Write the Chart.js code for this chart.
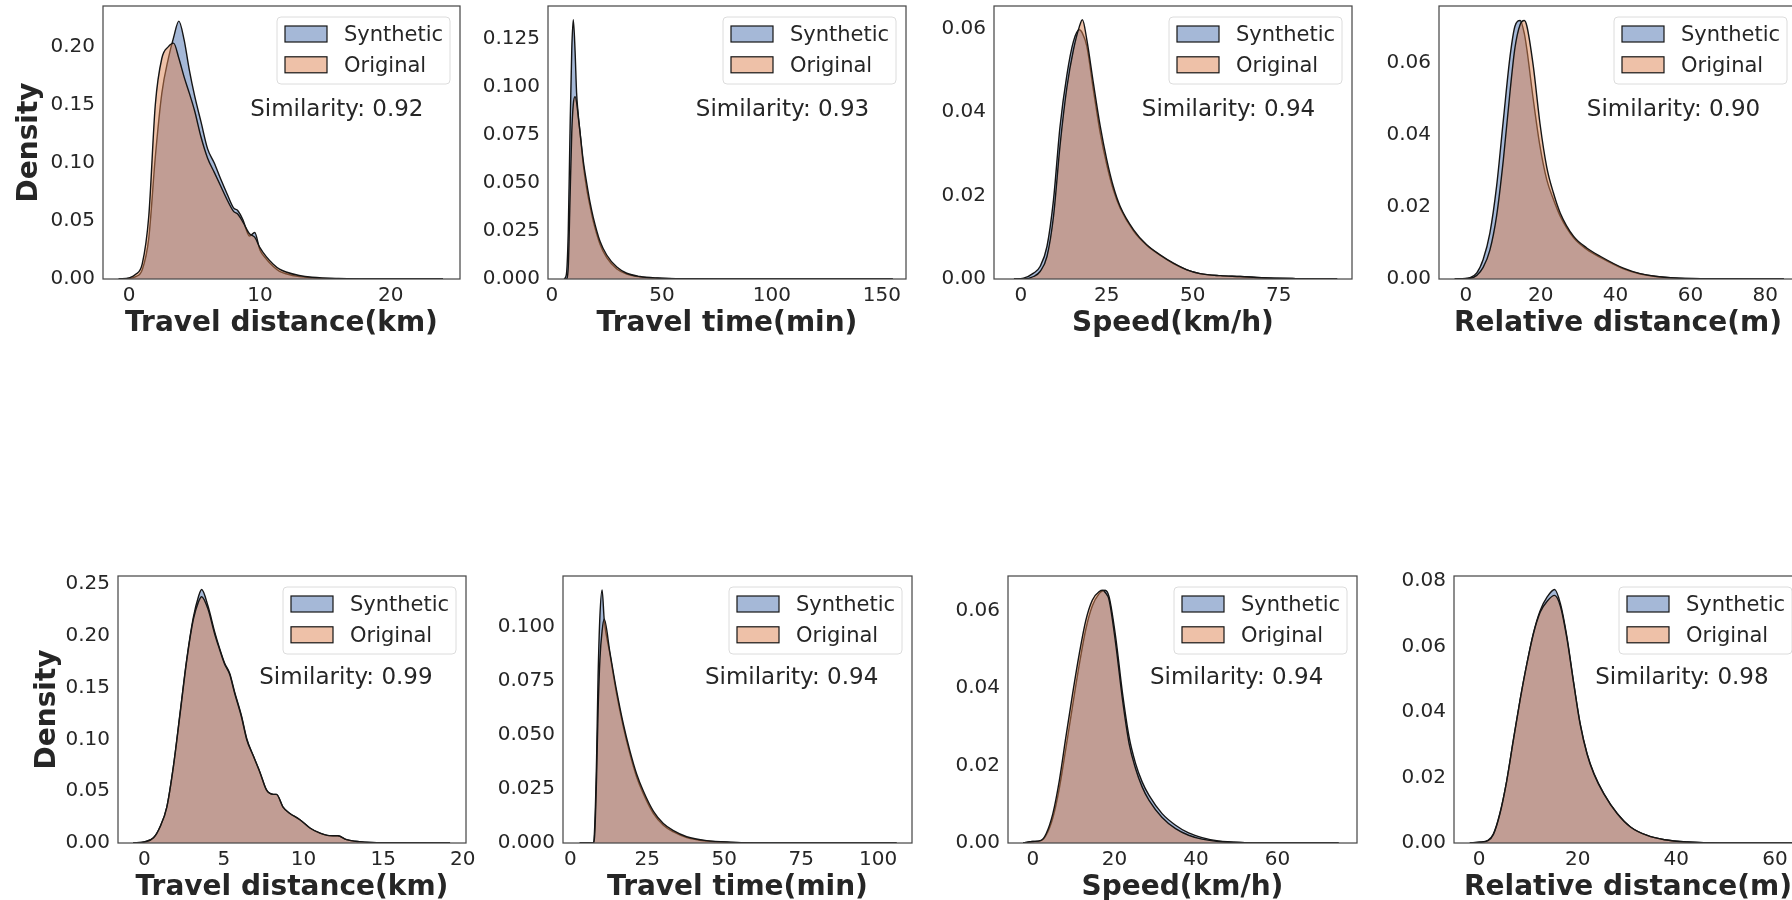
<!DOCTYPE html>
<html lang="fr">
<head>
<meta charset="utf-8">
<title>Densités : Synthetic vs Original</title>
<script src="https://cdn.jsdelivr.net/npm/chart.js@4.4.1/dist/chart.umd.min.js"></script>
<style>
  html, body { margin: 0; padding: 0; background: #fff; overflow: hidden; width: 1792px; height: 900px; }
  canvas { position: absolute; }
</style>
</head>
<body>
<script>
// ============================================================================
// Données (courbes de densité)
// ============================================================================
const LIBELLES_SERIES = ['Synthetic', 'Original'];
const TITRES_X = ['Travel distance(km)', 'Travel time(min)', 'Speed(km/h)', 'Relative distance(m)'];
const SIMILARITES = ['0.92', '0.93', '0.94', '0.90', '0.99', '0.94', '0.94', '0.98'];

// --- Ligne du haut : distance de trajet
const xDistanceHaut = [-0.8, 0, 0.5, 1, 1.5, 2, 2.5, 3, 3.4, 3.8, 4.2, 4.6, 5, 5.5, 6, 6.5, 7, 7.5, 8, 8.3, 8.7, 9.2, 9.6, 10, 10.5, 11, 11.5, 12, 13, 14, 16, 18, 21, 24];
const synDistanceHaut = [0, 0.0005, 0.002, 0.008, 0.035, 0.105, 0.16, 0.19, 0.208, 0.222, 0.206, 0.18, 0.158, 0.135, 0.112, 0.1, 0.086, 0.073, 0.061, 0.059, 0.051, 0.037, 0.04, 0.025, 0.017, 0.011, 0.0066, 0.0045, 0.002, 0.001, 0.0003, 0.0001, 0, 0];
const oriDistanceHaut = [0, 0.001, 0.004, 0.013, 0.054, 0.15, 0.19, 0.2, 0.203, 0.19, 0.174, 0.16, 0.145, 0.122, 0.104, 0.092, 0.08, 0.068, 0.058, 0.056, 0.049, 0.039, 0.036, 0.027, 0.019, 0.013, 0.0085, 0.006, 0.003, 0.0015, 0.0004, 0.0001, 0, 0];

// --- Ligne du haut : durée de trajet
const xDureeHaut = [5.5, 6.5, 7.4, 8.2, 9, 9.7, 10.5, 11.2, 12, 12.8, 14.3, 15.8, 17.3, 18.8, 21.9, 24.9, 29.5, 34, 40, 48, 60, 80, 110, 155];
const synDureeHaut = [0, 0.002, 0.024, 0.076, 0.119, 0.135, 0.119, 0.097, 0.085, 0.076, 0.059, 0.047, 0.038, 0.03, 0.018, 0.0112, 0.0052, 0.0026, 0.0011, 0.0004, 0.0001, 0, 0, 0];
const oriDureeHaut = [0, 0, 0.006, 0.041, 0.076, 0.091, 0.095, 0.092, 0.084, 0.076, 0.061, 0.05, 0.04, 0.032, 0.0195, 0.0125, 0.0062, 0.003, 0.0013, 0.0005, 0.0001, 0, 0, 0];

// --- Ligne du haut : vitesse
const xVitesseHaut = [-2, 0.8, 3.7, 5.6, 7.6, 9.5, 11.4, 13.4, 15.3, 17, 17.9, 19.2, 21.1, 23.1, 25, 26.9, 28.9, 32.8, 36.6, 40.5, 44.4, 48.3, 52.1, 58, 63.8, 70, 80, 92];
const synVitesseHaut = [0, 0.0002, 0.0014, 0.003, 0.0078, 0.019, 0.0366, 0.049, 0.057, 0.0598, 0.059, 0.0558, 0.0454, 0.035, 0.0274, 0.0214, 0.017, 0.0115, 0.0081, 0.0057, 0.0037, 0.0022, 0.0013, 0.0008, 0.0006, 0.0003, 0.0001, 0];
const oriVitesseHaut = [0, 0, 0.0006, 0.0018, 0.0054, 0.015, 0.032, 0.046, 0.055, 0.0605, 0.0622, 0.0574, 0.047, 0.0366, 0.0286, 0.0222, 0.0174, 0.0118, 0.0082, 0.0058, 0.0038, 0.0022, 0.0013, 0.0008, 0.0006, 0.0003, 0.0001, 0];

// --- Ligne du haut : distance relative
const xRelativeHaut = [-3, 1.1, 2.9, 4.6, 6.4, 8.2, 10, 11.8, 13.1, 14.5, 15.6, 16.3, 18, 19.8, 21.6, 23.4, 25.2, 28.8, 32.3, 35.9, 42.1, 46.6, 55.5, 65, 85];
const synRelativeHaut = [0, 0.0004, 0.0017, 0.0054, 0.0127, 0.0257, 0.044, 0.0617, 0.07, 0.0716, 0.068, 0.0635, 0.0497, 0.0367, 0.0275, 0.022, 0.0174, 0.0114, 0.0082, 0.006, 0.0028, 0.0014, 0.0003, 0.0001, 0];
const oriRelativeHaut = [0, 0.0002, 0.001, 0.0032, 0.008, 0.0175, 0.033, 0.052, 0.064, 0.0705, 0.0716, 0.07, 0.059, 0.043, 0.031, 0.0238, 0.0183, 0.0118, 0.0086, 0.0063, 0.003, 0.0015, 0.0003, 0.0001, 0];

// --- Ligne du bas : distance de trajet
const xDistanceBas = [-0.7, 0, 0.58, 1, 1.42, 1.83, 2.25, 2.67, 3.08, 3.4, 3.6, 4, 4.42, 4.73, 5.04, 5.36, 5.67, 6.1, 6.43, 6.85, 7.27, 7.68, 8.1, 8.3, 8.7, 9.1, 9.77, 10.4, 11, 11.6, 12.15, 12.7, 13.5, 15, 19.2];
const synDistanceBas = [0, 0.001, 0.005, 0.016, 0.035, 0.074, 0.126, 0.178, 0.218, 0.238, 0.245, 0.229, 0.204, 0.188, 0.174, 0.164, 0.146, 0.123, 0.101, 0.084, 0.068, 0.051, 0.047, 0.047, 0.035, 0.029, 0.0225, 0.0145, 0.0097, 0.0071, 0.007, 0.0032, 0.0013, 0.0002, 0];
const oriDistanceBas = [0, 0.001, 0.005, 0.016, 0.035, 0.074, 0.125, 0.177, 0.216, 0.233, 0.238, 0.226, 0.202, 0.187, 0.173, 0.163, 0.145, 0.122, 0.1, 0.084, 0.068, 0.051, 0.047, 0.047, 0.035, 0.029, 0.0225, 0.0145, 0.0097, 0.0071, 0.007, 0.0032, 0.0013, 0.0002, 0];

// --- Ligne du bas : durée de trajet
const xDureeBas = [3, 7.4, 7.9, 8.5, 9, 9.6, 10.3, 11, 12.8, 15, 17.2, 19.3, 21.5, 23.7, 27, 30.2, 33.5, 37.8, 44.3, 52, 68, 106];
const synDureeBas = [0, 0, 0.0074, 0.038, 0.077, 0.105, 0.117, 0.103, 0.0877, 0.069, 0.0537, 0.0414, 0.0306, 0.0228, 0.0136, 0.0082, 0.0051, 0.0025, 0.0009, 0.0003, 0, 0];
const oriDureeBas = [0, 0, 0.004, 0.03, 0.061, 0.085, 0.098, 0.1034, 0.0885, 0.0705, 0.055, 0.0428, 0.032, 0.024, 0.0146, 0.009, 0.0057, 0.0029, 0.0011, 0.0004, 0, 0];

// --- Ligne du bas : vitesse
const xVitesseBas = [-2.4, 0, 2, 3.25, 4.9, 6.5, 8.1, 9.75, 11.4, 13, 14.6, 16.3, 17.2, 17.7, 18.7, 20.3, 22, 23.6, 25.2, 26.8, 28.5, 31.7, 35, 38.2, 41.5, 45.5, 52, 60, 75];
const synVitesseBas = [0, 0.0004, 0.0006, 0.002, 0.0065, 0.0142, 0.0245, 0.0355, 0.0462, 0.0553, 0.0613, 0.0645, 0.0652, 0.0653, 0.0636, 0.0533, 0.0386, 0.0274, 0.0205, 0.0158, 0.0123, 0.0076, 0.0046, 0.0026, 0.0014, 0.0005, 0.0001, 0, 0];
const oriVitesseBas = [0, 0.0004, 0.0007, 0.0024, 0.0076, 0.0162, 0.0274, 0.0386, 0.049, 0.0576, 0.0628, 0.065, 0.0653, 0.0648, 0.0628, 0.0516, 0.0369, 0.0257, 0.0192, 0.0145, 0.011, 0.0066, 0.0037, 0.002, 0.001, 0.0004, 0.0001, 0, 0];

// --- Ligne du bas : distance relative
const xRelativeBas = [-1.9, 0.1, 1.8, 2.9, 4.2, 5.6, 6.9, 8.3, 9.7, 11, 12.4, 13.8, 15.3, 16.5, 17.8, 19.2, 20.5, 21.9, 23.3, 25.3, 28, 30.7, 34.1, 37.6, 42.3, 49, 63.8];
const synRelativeBas = [0, 0.0003, 0.0008, 0.0028, 0.009, 0.019, 0.031, 0.0436, 0.0548, 0.064, 0.071, 0.0751, 0.0774, 0.073, 0.063, 0.0487, 0.0364, 0.0273, 0.0212, 0.0151, 0.009, 0.0049, 0.0023, 0.001, 0.0003, 0, 0];
const oriRelativeBas = [0, 0.0002, 0.0007, 0.0026, 0.0088, 0.019, 0.031, 0.0436, 0.0548, 0.0638, 0.0705, 0.0738, 0.0756, 0.0722, 0.0625, 0.0485, 0.0362, 0.0271, 0.021, 0.015, 0.009, 0.0049, 0.0023, 0.001, 0.0003, 0, 0];

// --- Graduations
const ticksXDistanceHaut = [0, 10, 20];
const ticksXDureeHaut = [0, 50, 100, 150];
const ticksXVitesseHaut = [0, 25, 50, 75];
const ticksXRelativeHaut = [0, 20, 40, 60, 80];
const ticksXDistanceBas = [0, 5, 10, 15, 20];
const ticksXDureeBas = [0, 25, 50, 75, 100];
const ticksXVitesseBas = [0, 20, 40, 60];
const ticksXRelativeBas = [0, 20, 40, 60];

const ticksYDistanceHaut = [0, 0.05, 0.10, 0.15, 0.20];
const ticksYDureeHaut = [0, 0.025, 0.05, 0.075, 0.1, 0.125];
const ticksYVitesseHaut = [0, 0.02, 0.04, 0.06];
const ticksYRelativeHaut = [0, 0.02, 0.04, 0.06];
const ticksYDistanceBas = [0, 0.05, 0.10, 0.15, 0.20, 0.25];
const ticksYDureeBas = [0, 0.025, 0.05, 0.075, 0.1];
const ticksYVitesseBas = [0, 0.02, 0.04, 0.06];
const ticksYRelativeBas = [0, 0.02, 0.04, 0.06, 0.08];

// ============================================================================
// Constantes de style et de mise en page
// ============================================================================
const POLICE = "'DejaVu Sans', 'Liberation Sans', sans-serif";
const COULEUR_TEXTE = '#262626';
const COULEUR_CADRE = '#4a4a4a';
const BLEU = 'rgba(76, 114, 176, 0.5)';   // palette "deep" de seaborn
const ORANGE = 'rgba(221, 132, 82, 0.5)';
const CONTOUR = '#151515';

const LARGEUR_AXE_Y = 100; // place réservée aux graduations de gauche
const HAUTEUR_AXE_X = 70;  // graduations + titre sous le cadre
const MARGE_HAUT = 26;     // > demi-hauteur du libellé du haut + padding
const MARGE_DROITE = 30;

Chart.defaults.font.family = POLICE;
Chart.defaults.color = COULEUR_TEXTE;

// Boîte de chaque panneau (pixels de la page) et bornes des axes
const panneaux = [
  { x: xDistanceHaut, syn: synDistanceHaut, ori: oriDistanceHaut, tx: ticksXDistanceHaut, ty: ticksYDistanceHaut, dec: 2,
    minX: -2.0, maxX: 25.3, maxY: 0.235, titre: TITRES_X[0], sim: SIMILARITES[0], boite: [103, 6, 460, 279], density: 30 },
  { x: xDureeHaut, syn: synDureeHaut, ori: oriDureeHaut, tx: ticksXDureeHaut, ty: ticksYDureeHaut, dec: 3,
    minX: -1.8, maxX: 161, maxY: 0.1422, titre: TITRES_X[1], sim: SIMILARITES[1], boite: [548, 6, 906, 279] },
  { x: xVitesseHaut, syn: synVitesseHaut, ori: oriVitesseHaut, tx: ticksXVitesseHaut, ty: ticksYVitesseHaut, dec: 2,
    minX: -7.8, maxX: 96.3, maxY: 0.0655, titre: TITRES_X[2], sim: SIMILARITES[2], boite: [994, 6, 1352, 279] },
  { x: xRelativeHaut, syn: synRelativeHaut, ori: oriRelativeHaut, tx: ticksXRelativeHaut, ty: ticksYRelativeHaut, dec: 2,
    minX: -7.2, maxX: 88.5, maxY: 0.0756, titre: TITRES_X[3], sim: SIMILARITES[3], boite: [1439, 6, 1797, 279] },
  { x: xDistanceBas, syn: synDistanceBas, ori: oriDistanceBas, tx: ticksXDistanceBas, ty: ticksYDistanceBas, dec: 2,
    minX: -1.65, maxX: 20.2, maxY: 0.258, titre: TITRES_X[0], sim: SIMILARITES[4], boite: [118, 576, 466, 843], density: 47.5 },
  { x: xDureeBas, syn: synDureeBas, ori: oriDureeBas, tx: ticksXDureeBas, ty: ticksYDureeBas, dec: 3,
    minX: -2.4, maxX: 111, maxY: 0.1234, titre: TITRES_X[1], sim: SIMILARITES[5], boite: [563, 576, 912, 843] },
  { x: xVitesseBas, syn: synVitesseBas, ori: oriVitesseBas, tx: ticksXVitesseBas, ty: ticksYVitesseBas, dec: 2,
    minX: -6.1, maxX: 79.5, maxY: 0.069, titre: TITRES_X[2], sim: SIMILARITES[6], boite: [1008, 576, 1357, 843] },
  { x: xRelativeBas, syn: synRelativeBas, ori: oriRelativeBas, tx: ticksXRelativeBas, ty: ticksYRelativeBas, dec: 2,
    minX: -5.1, maxX: 65.5, maxY: 0.0815, titre: TITRES_X[3], sim: SIMILARITES[7], boite: [1454, 576, 1802, 843] }
];

// ============================================================================
// Plugins maison : cadre, légende et texte de similarité
// ============================================================================
function rectangleArrondi(ctx, x, y, l, h, r) {
    ctx.beginPath();
    ctx.moveTo(x + r, y);
    ctx.lineTo(x + l - r, y);
    ctx.arcTo(x + l, y, x + l, y + r, r);
    ctx.lineTo(x + l, y + h - r);
    ctx.arcTo(x + l, y + h, x + l - r, y + h, r);
    ctx.lineTo(x + r, y + h);
    ctx.arcTo(x, y + h, x, y + h - r, r);
    ctx.lineTo(x, y + r);
    ctx.arcTo(x, y, x + r, y, r);
    ctx.closePath();
}

const pluginCadre = {
    id: 'cadre',
    afterDatasetsDraw(chart) {
        const { ctx, chartArea: a } = chart;
        ctx.save();
        ctx.strokeStyle = COULEUR_CADRE;
        ctx.lineWidth = 1.25;
        ctx.strokeRect(a.left, a.top, a.right - a.left, a.bottom - a.top);
        ctx.restore();
    }
};

const pluginLegende = {
    id: 'legendeMaison',
    afterDraw(chart) {
        const { ctx, chartArea: a } = chart;
        const largeur = 173, hauteur = 67;
        const gauche = a.right - 10 - largeur;
        const haut = a.top + 11;

        ctx.save();
        rectangleArrondi(ctx, gauche, haut, largeur, hauteur, 4);
        ctx.fillStyle = 'rgba(255, 255, 255, 0.8)';
        ctx.fill();
        ctx.strokeStyle = '#dcdcdc';
        ctx.lineWidth = 1;
        ctx.stroke();

        ctx.font = '21px ' + POLICE;
        ctx.textBaseline = 'middle';
        chart.data.datasets.forEach((ds, i) => {
            const yc = haut + 17 + i * 30.8;
            ctx.fillStyle = '#fff';
            ctx.fillRect(gauche + 8, yc - 8, 42, 16);
            ctx.fillStyle = ds.backgroundColor;
            ctx.fillRect(gauche + 8, yc - 8, 42, 16);
            ctx.strokeStyle = CONTOUR;
            ctx.lineWidth = 1.2;
            ctx.strokeRect(gauche + 8, yc - 8, 42, 16);
            ctx.fillStyle = COULEUR_TEXTE;
            ctx.fillText(ds.label, gauche + 67, yc + 1.5);
        });
        ctx.restore();
    }
};

const pluginSimilarite = {
    id: 'similarite',
    afterDraw(chart, args, opts) {
        const { ctx, chartArea: a } = chart;
        ctx.save();
        ctx.font = '23px ' + POLICE;
        ctx.fillStyle = COULEUR_TEXTE;
        ctx.textAlign = 'center';
        ctx.textBaseline = 'middle';
        const xc = a.left + 0.655 * (a.right - a.left);
        const yc = a.bottom - 0.625 * (a.bottom - a.top);
        ctx.fillText('Similarity: ' + opts.valeur, xc, yc + 1.5);
        ctx.restore();
    }
};

// ============================================================================
// Construction des huit panneaux
// ============================================================================
function creerPanneau(p) {
    const [l, t, r, b] = p.boite;
    const canvas = document.createElement('canvas');
    const largeur = LARGEUR_AXE_Y + (r - l) + MARGE_DROITE;
    const hauteur = MARGE_HAUT + (b - t) + HAUTEUR_AXE_X;
    canvas.width = largeur;
    canvas.height = hauteur;
    canvas.style.left = (l - LARGEUR_AXE_Y) + 'px';
    canvas.style.top = (t - MARGE_HAUT) + 'px';
    canvas.style.width = largeur + 'px';
    canvas.style.height = hauteur + 'px';
    document.body.appendChild(canvas);

    const serie = (ys) => p.x.map((x, i) => ({ x: x, y: ys[i] }));
    const commun = { borderColor: CONTOUR, borderWidth: 1.4, fill: 'origin', pointRadius: 0, cubicInterpolationMode: 'monotone' };

    new Chart(canvas, {
        type: 'line',
        data: {
            datasets: [
                { ...commun, label: LIBELLES_SERIES[0], data: serie(p.syn), backgroundColor: BLEU, order: 1 },
                { ...commun, label: LIBELLES_SERIES[1], data: serie(p.ori), backgroundColor: ORANGE, order: 0 }
            ]
        },
        options: {
            responsive: false,
            animation: false,
            devicePixelRatio: 1,
            layout: { padding: { top: MARGE_HAUT, right: MARGE_DROITE, left: 0, bottom: 0 } },
            plugins: {
                legend: { display: false },
                tooltip: { enabled: false },
                similarite: { valeur: p.sim }
            },
            scales: {
                x: {
                    type: 'linear',
                    min: p.minX,
                    max: p.maxX,
                    grid: { display: false, drawTicks: false },
                    border: { display: false },
                    afterBuildTicks: (s) => { s.ticks = p.tx.map(v => ({ value: v })); },
                    afterFit: (s) => { s.height = HAUTEUR_AXE_X; },
                    ticks: { autoSkip: false, maxRotation: 0, padding: 5, color: COULEUR_TEXTE, font: { size: 20 },
                             callback: (v) => String(v) },
                    title: { display: true, text: p.titre, color: COULEUR_TEXTE,
                             font: { size: 28, weight: 'bold', lineHeight: 1.2 }, padding: { top: 0, bottom: 8 } }
                },
                y: {
                    min: 0,
                    max: p.maxY,
                    grid: { display: false, drawTicks: false },
                    border: { display: false },
                    afterBuildTicks: (s) => { s.ticks = p.ty.map(v => ({ value: v })); },
                    afterFit: (s) => { s.width = LARGEUR_AXE_Y; },
                    ticks: { autoSkip: false, padding: 8, color: COULEUR_TEXTE, font: { size: 20 },
                             callback: (v) => Number(v).toFixed(p.dec) },
                    title: { display: !!p.density, text: 'Density', color: COULEUR_TEXTE,
                             font: { size: 28, weight: 'bold', lineHeight: 1.2 },
                             padding: { top: p.density ? p.density - (l - LARGEUR_AXE_Y) - 16.8 : 0, bottom: 0 } }
                }
            }
        },
        plugins: [pluginCadre, pluginLegende, pluginSimilarite]
    });
}

panneaux.forEach(creerPanneau);
</script>
</body>
</html>
